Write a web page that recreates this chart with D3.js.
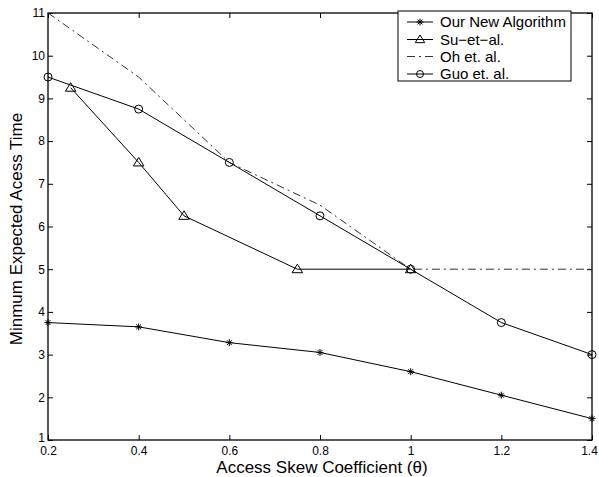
<!DOCTYPE html>
<html><head><meta charset="utf-8">
<script src="https://cdn.jsdelivr.net/npm/d3@7"></script>
<style>body{margin:0;background:#fff}svg{display:block}text{font-family:"Liberation Sans",Arial,sans-serif}</style>
</head><body><svg id="c" width="599" height="477"></svg>
<script>
const ourX=[0.2,0.4,0.6,0.8,1.0,1.2,1.4];
const ourY=[3.75,3.65,3.28,3.05,2.6,2.05,1.5];
const suX=[0.25,0.4,0.5,0.75,1.0];
const suY=[9.25,7.5,6.25,5.0,5.0];
const ohX=[0.2,0.4,0.6,0.8,1.0,1.2,1.4];
const ohY=[11,9.5,7.5,6.5,5.0,5.0,5.0];
const guoX=[0.2,0.4,0.6,0.8,1.0,1.2,1.4];
const guoY=[9.5,8.75,7.5,6.25,5.0,3.75,3.0];
const xTicks=[0.2,0.4,0.6,0.8,1,1.2,1.4];
const yTicks=[1,2,3,4,5,6,7,8,9,10,11];
const names=["Our New Algorithm","Su\u2212et\u2212al.","Oh et. al.","Guo et. al."];

const svg=d3.select("#c");
const L=48,R=592,T=13,B=440;
const x=d3.scaleLinear().domain([0.2,1.4]).range([L,R]);
const y=d3.scaleLinear().domain([1,11]).range([B,T]);

const g=svg.append("g");
const ax=g.append("g").attr("transform",`translate(0,${B})`).call(d3.axisBottom(x).tickValues(xTicks).tickSizeInner(-5).tickSizeOuter(0).tickPadding(4).tickFormat(d=>d3.format("")(d)));
const ax2=g.append("g").attr("transform",`translate(0,${T})`).call(d3.axisTop(x).tickValues(xTicks).tickSizeInner(-5).tickSizeOuter(0).tickFormat(""));
const ay=g.append("g").attr("transform",`translate(${L},0)`).call(d3.axisLeft(y).tickValues(yTicks).tickSizeInner(-5).tickSizeOuter(0).tickPadding(3));
const ay2=g.append("g").attr("transform",`translate(${R},0)`).call(d3.axisRight(y).tickValues(yTicks).tickSizeInner(-5).tickSizeOuter(0).tickFormat(""));
[ax,ax2,ay,ay2].forEach(a=>{a.select(".domain").remove();a.selectAll("line").attr("stroke","#000");a.selectAll("text").attr("font-size",12).attr("fill","#000").attr("font-family","Liberation Sans, Arial, sans-serif");});
ax.selectAll("text").attr("dy","0.88em");
ax.selectAll(".tick").filter(d=>d===1.4).select("text").attr("dx","-3");
ay.selectAll("text").attr("dy","0.32em");
ay.selectAll(".tick").filter(d=>d===1).select("text").attr("dy","0.1em");
g.append("rect").attr("x",L).attr("y",T).attr("width",R-L).attr("height",B-T).attr("fill","none").attr("stroke","#000").attr("stroke-width",1.3);

const line=d3.line().x(d=>x(d[0])).y(d=>y(d[1]));
const z=(a,b)=>a.map((v,i)=>[v,b[i]]);
const ohD=z(ohX,ohY), ourD=z(ourX,ourY), suD=z(suX,suY), guoD=z(guoX,guoY);

g.append("path").attr("d",line(ohD)).attr("fill","none").attr("stroke","#333").attr("stroke-width",1).attr("stroke-dasharray","8,4,2,4");
g.append("path").attr("d",line(suD)).attr("fill","none").attr("stroke","#000").attr("stroke-width",1);
g.append("path").attr("d",line(guoD)).attr("fill","none").attr("stroke","#000").attr("stroke-width",1);
g.append("path").attr("d",line(ourD)).attr("fill","none").attr("stroke","#000").attr("stroke-width",1);

function star(sel,cx,cy,s){
  const r=s;
  [[0,1],[1,0],[0.7,0.7],[0.7,-0.7]].forEach(([a,b])=>{
    sel.append("line").attr("x1",cx-a*r).attr("y1",cy-b*r).attr("x2",cx+a*r).attr("y2",cy+b*r).attr("stroke","#000").attr("stroke-width",1);
  });
}
function tri(sel,cx,cy,s){
  sel.append("path").attr("d",`M${cx},${cy-s}L${cx+s*1.05},${cy+s*0.7}L${cx-s*1.05},${cy+s*0.7}Z`).attr("fill","none").attr("stroke","#000").attr("stroke-width",1);
}
function circ(sel,cx,cy,s){
  sel.append("circle").attr("cx",cx).attr("cy",cy).attr("r",s).attr("fill","none").attr("stroke","#000").attr("stroke-width",1);
}
ourD.forEach(d=>star(g,x(d[0]),y(d[1]),3.5));
suD.forEach(d=>tri(g,x(d[0]),y(d[1]),5));
guoD.forEach(d=>circ(g,x(d[0]),y(d[1]),4));

svg.append("text").attr("x",322).attr("y",473).attr("text-anchor","middle").attr("font-size",17).text("Access Skew Coefficient (\u03B8)");
svg.append("text").attr("transform",`translate(22,229) rotate(-90)`).attr("text-anchor","middle").attr("font-size",17).text("Minmum Expected Acess Time");

const lg=svg.append("g");
lg.append("rect").attr("x",398).attr("y",11).attr("width",173).attr("height",70).attr("fill","#fff").attr("stroke","#000").attr("stroke-width",1);
const ly=[22,39.5,56.5,74];
names.forEach((n,i)=>{
  const yy=ly[i];
  const ln=lg.append("line").attr("x1",407).attr("x2",433).attr("y1",yy).attr("y2",yy).attr("stroke","#000").attr("stroke-width",1);
  if(i===2) ln.attr("stroke","#333").attr("stroke-dasharray","8,4,2,4");
  if(i===0) star(lg,420,yy,3.5);
  if(i===1) tri(lg,420,yy,4.5);
  if(i===3) circ(lg,420,yy,3.5);
  lg.append("text").attr("x",440).attr("y",yy).attr("dy","0.36em").attr("font-size",15).text(n);
});
</script></body></html>
